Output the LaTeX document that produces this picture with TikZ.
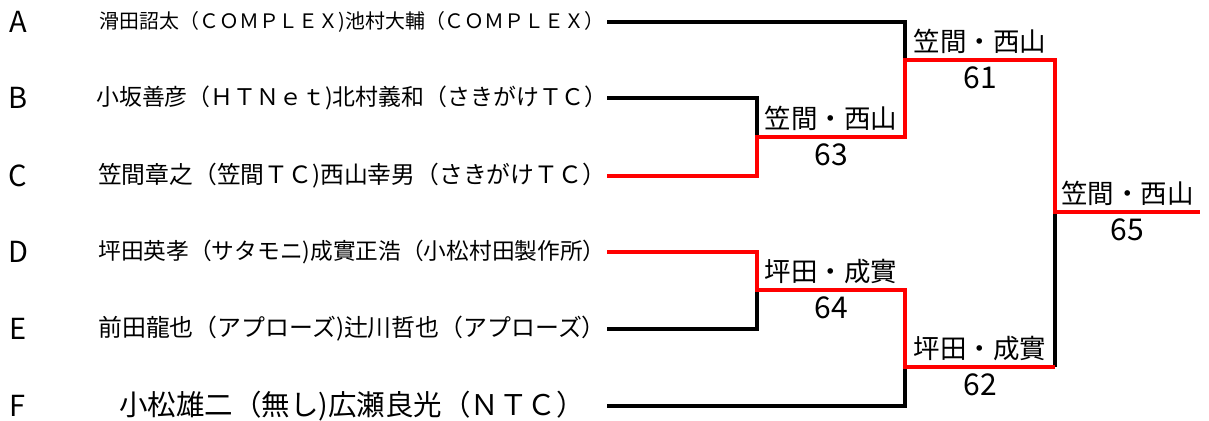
\documentclass[tikz,border=0pt]{standalone}
\usepackage{fontspec}
\setmainfont{Noto Sans CJK JP}

\begin{document}
\begin{tikzpicture}[x=1pt, y=-1pt,
    lose/.style={line width=3.2pt, black},
    win/.style={line width=3.2pt, red},
    seed/.style={font=\fontsize{29}{29}\selectfont},
    pair/.style={font=\fontsize{#1}{#1}\selectfont},
    winner/.style={font=\fontsize{26.5}{26.5}\selectfont, inner sep=6pt},
    score/.style={font=\fontsize{30}{30}\selectfont, inner sep=7pt}]
        \useasboundingbox (0,0) rectangle (1209,420);

        % seeds
        \node[seed] (LA) at (18, 22) {A};
        \node[seed] (LB) at (18, 98) {B};
        \node[seed] (LC) at (18, 176) {C};
        \node[seed] (LD) at (18, 252) {D};
        \node[seed] (LE) at (18, 329) {E};
        \node[seed] (LF) at (18, 406) {F};

        % pairs
        \node[pair=19.9] (PA) at (352, 22) {滑田詔太（ＣＯＭＰＬＥＸ)池村大輔（ＣＯＭＰＬＥＸ）};
        \node[pair=22.9] (PB) at (352, 98) {小坂善彦（ＨＴＮｅｔ)北村義和（さきがけＴＣ）};
        \node[pair=23.8] (PC) at (352, 176) {笠間章之（笠間ＴＣ)西山幸男（さきがけＴＣ）};
        \node[pair=22.7] (PD) at (352, 252) {坪田英孝（サタモニ)成實正浩（小松村田製作所）};
        \node[pair=23.9] (PE) at (352, 329) {前田龍也（アプローズ)辻川哲也（アプローズ）};
        \node[pair=28.5] (PF) at (352, 406) {小松雄二（無し)広瀬良光（ＮＴＣ）};

        % bracket corners
        \coordinate (A0) at (607, 22);  \coordinate (A1) at (905, 22);
        \coordinate (B0) at (607, 98);  \coordinate (B1) at (757, 98);
        \coordinate (C0) at (607, 176); \coordinate (C1) at (757, 176);
        \coordinate (D0) at (607, 252); \coordinate (D1) at (757, 252);
        \coordinate (E0) at (607, 329); \coordinate (E1) at (757, 329);
        \coordinate (F0) at (607, 406); \coordinate (F1) at (905, 406);
        \coordinate (M63) at (757, 137); \coordinate (M63') at (905, 137);
        \coordinate (M64) at (757, 290); \coordinate (M64') at (905, 290);
        \coordinate (M61) at (905, 60);  \coordinate (M61') at (1055, 60);
        \coordinate (M62) at (905, 367); \coordinate (M62') at (1055, 367);
        \coordinate (M65) at (1055, 212); \coordinate (M65') at (1200, 212);

        \draw[lose] (A0) -- (A1) -- (M61);
        \draw[lose] (B0) -- (B1) -- (M63);
        \draw[lose] (E0) -- (E1) -- (M64);
        \draw[lose] (F0) -- (F1) -- (M62);
        \draw[lose] (M62') -- (M65);
        \draw[win] (C0) -- (C1) -- (M63) -- (M63') -- (M61) -- (M61') -- (M65) -- (M65');
        \draw[win] (D0) -- (D1) -- (M64) -- (M64') -- (M62) -- (M62');

        % results
        \path (M63) -- (M63') node[midway, above, winner] (W63) {笠間・西山}
            node[midway, below, score] (S63) {63};
        \path (M64) -- (M64') node[midway, above, winner] (W64) {坪田・成實}
            node[midway, below, score] (S64) {64};
        \path (M61) -- (M61') node[midway, above, winner] (W61) {笠間・西山}
            node[midway, below, score] (S61) {61};
        \path (M62) -- (M62') node[midway, above, winner] (W62) {坪田・成實}
            node[midway, below, score] (S62) {62};
        \path (M65) -- (M65') node[midway, above, winner] (W65) {笠間・西山}
            node[midway, below, score] (S65) {65};
      \end{tikzpicture}
\end{document}
